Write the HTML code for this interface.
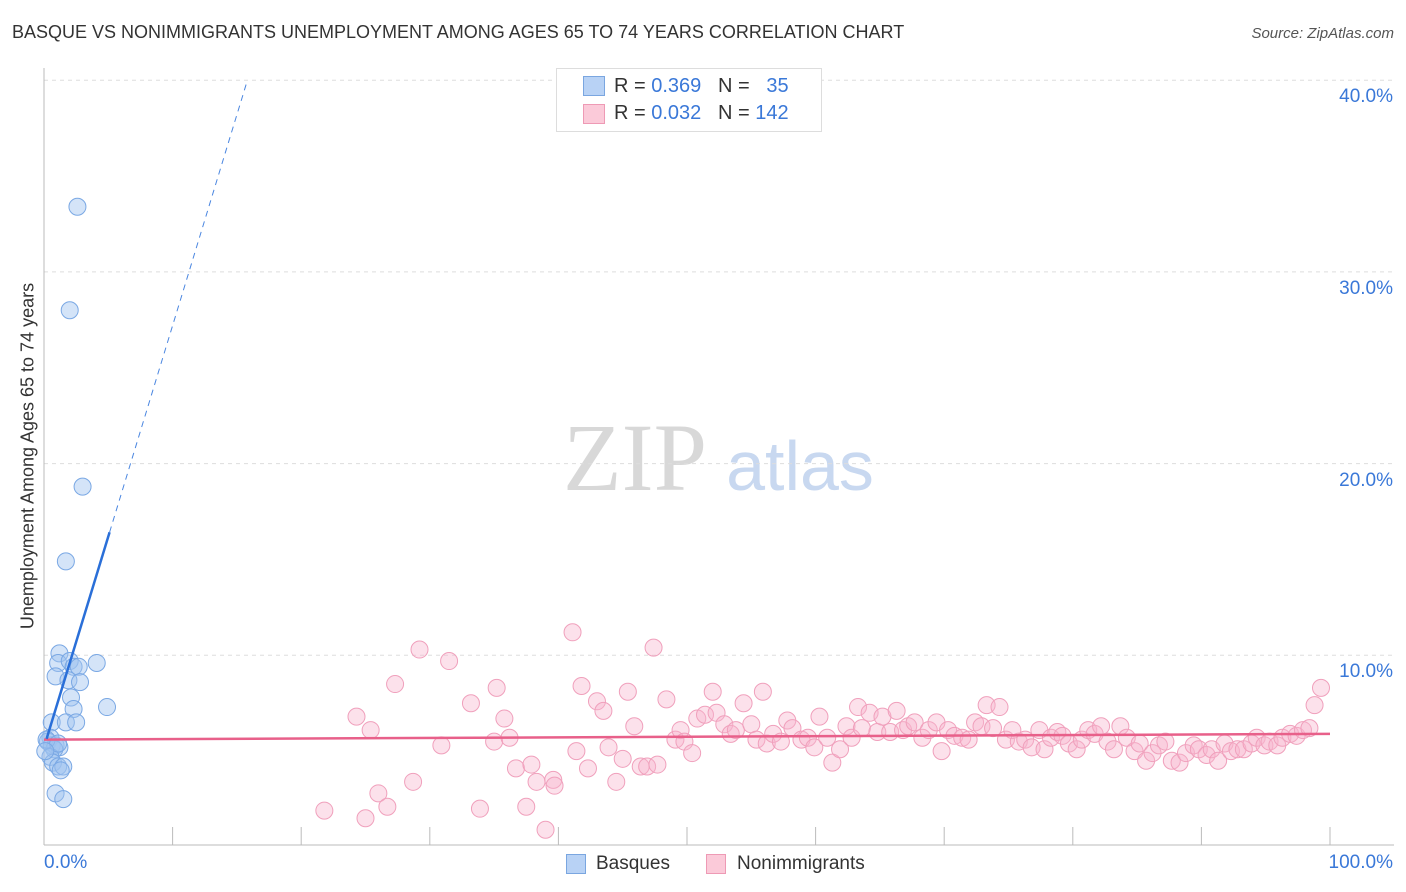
<!DOCTYPE html>
<html><head><meta charset="utf-8"><style>
body{margin:0;background:#fff;font-family:"Liberation Sans",sans-serif;}
#wrap{position:relative;width:1406px;height:892px;overflow:hidden;}
.t{position:absolute;white-space:nowrap;}
</style></head><body>
<div id="wrap">
<div class="t" style="left:12px;top:22px;font-size:18px;color:#333;">BASQUE VS NONIMMIGRANTS UNEMPLOYMENT AMONG AGES 65 TO 74 YEARS CORRELATION CHART</div>
<div class="t" style="right:12px;top:25px;font-size:15px;color:#555;font-style:italic;">Source: ZipAtlas.com</div>
<svg id="plot" width="1406" height="892" style="position:absolute;left:0;top:0">
<text x="635" y="490" font-family="Liberation Serif,serif" font-size="96" fill="#d8d8d8" text-anchor="middle">ZIP</text>
<text x="800" y="490" font-family="Liberation Sans,sans-serif" font-size="70" fill="#c8d8f0" text-anchor="middle">atlas</text>
</svg>
<div class="t" style="left:28px;top:456px;font-size:18px;color:#333;transform:translate(-50%,-50%) rotate(-90deg);transform-origin:center;">Unemployment Among Ages 65 to 74 years</div>
<div style="position:absolute;left:556px;top:68px;width:264px;height:62px;border:1px solid #ddd;background:#fff;font-size:20px;color:#333;">
<div style="position:absolute;left:26px;top:7px;width:20px;height:18px;background:#b8d2f5;border:1px solid #7aa6e0;"></div>
<div class="t" style="left:57px;top:6px;">R = <span style="color:#3a78d8">0.369</span>&nbsp;&nbsp;&nbsp;N = &nbsp;&nbsp;<span style="color:#3a78d8">35</span></div>
<div style="position:absolute;left:26px;top:35px;width:20px;height:18px;background:#fbcad9;border:1px solid #ee9ab5;"></div>
<div class="t" style="left:57px;top:33px;">R = <span style="color:#3a78d8">0.032</span>&nbsp;&nbsp;&nbsp;N = <span style="color:#3a78d8">142</span></div>
</div>
<div>
<div style="position:absolute;left:566px;top:854px;width:18px;height:18px;background:#b8d2f5;border:1px solid #7aa6e0;"></div>
<div class="t" style="left:596px;top:853px;font-size:19px;color:#333;">Basques</div>
<div style="position:absolute;left:706px;top:854px;width:18px;height:18px;background:#fbcad9;border:1px solid #ee9ab5;"></div>
<div class="t" style="left:737px;top:853px;font-size:19px;color:#333;">Nonimmigrants</div>
</div>
</div>
<script>
const yTicks=[10,20,30,40];
const yTickLabels=["10.0%","20.0%","30.0%","40.0%"];
const xTickLabels=["0.0%","100.0%"];
const basqueX=[2.6,2.0,3.0,1.7,1.2,1.1,2.0,2.3,2.7,4.1,0.9,1.9,2.8,2.1,2.3,4.9,0.6,1.7,2.5,0.5,0.3,0.6,0.9,1.2,0.8,0.5,0.7,1.1,1.5,1.3,0.9,1.5,0.2,1.1,0.1];
const basqueY=[33.4,28.0,18.8,14.9,10.1,9.6,9.7,9.4,9.4,9.6,8.9,8.7,8.6,7.8,7.2,7.3,6.5,6.5,6.5,5.7,5.5,5.3,5.3,5.2,5.1,4.7,4.4,4.2,4.2,4.0,2.8,2.5,5.6,5.4,5.0];
const nonX=[21.8,24.3,25.0,25.4,26.0,26.7,27.3,28.7,29.2,30.9,31.5,33.2,33.9,35.2,35.0,35.8,36.2,36.7,37.5,37.9,38.3,39.0,39.6,39.7,41.1,41.4,41.8,42.3,43.0,43.5,43.9,44.5,45.0,45.4,45.9,46.4,46.9,47.4,47.7,48.4,49.1,49.5,49.8,50.4,50.8,51.4,52.0,52.3,52.9,53.4,53.8,54.4,55.0,55.4,55.9,56.2,56.7,57.3,57.8,58.2,58.9,59.4,59.9,60.3,60.9,61.3,61.9,62.4,62.8,63.3,63.6,64.2,64.8,65.2,65.8,66.3,66.8,67.2,67.7,68.3,68.8,69.4,69.8,70.3,70.8,71.4,71.9,72.4,72.9,73.3,73.8,74.3,74.8,75.3,75.8,76.3,76.8,77.4,77.8,78.3,78.8,79.2,79.7,80.3,80.7,81.2,81.7,82.2,82.7,83.2,83.7,84.2,84.8,85.2,85.7,86.2,86.7,87.2,87.7,88.3,88.8,89.4,89.8,90.4,90.8,91.3,91.8,92.3,92.8,93.3,93.9,94.3,94.9,95.3,95.9,96.3,96.9,97.4,97.9,98.4,98.8,99.3];
const nonY=[1.9,6.8,1.5,6.1,2.8,2.1,8.5,3.4,10.3,5.3,9.7,7.5,2.0,8.3,5.5,6.7,5.7,4.1,2.1,4.3,3.4,0.9,3.5,3.2,11.2,5.0,8.4,4.1,7.6,7.1,5.2,3.4,4.6,8.1,6.3,4.2,4.2,10.4,4.3,7.7,5.6,6.1,5.5,4.9,6.7,6.9,8.1,7.0,6.4,5.9,6.1,7.5,6.4,5.6,8.1,5.4,5.9,5.5,6.6,6.2,5.6,5.7,5.2,6.8,5.7,4.4,5.1,6.3,5.7,7.3,6.2,7.0,6.0,6.8,6.0,7.1,6.1,6.3,6.5,5.7,6.1,6.5,5.0,6.1,5.8,5.7,5.6,6.5,6.3,7.4,6.2,7.3,5.6,6.1,5.5,5.6,5.2,6.1,5.1,5.7,6.0,5.8,5.4,5.1,5.6,6.1,5.9,6.3,5.5,5.1,6.3,5.7,5.0,5.4,4.5,4.9,5.3,5.5,4.5,4.4,4.9,5.3,5.1,4.8,5.1,4.5,5.4,5.0,5.1,5.1,5.4,5.7,5.3,5.5,5.3,5.7,5.9,5.8,6.1,6.2,7.4,8.3];
const basqueTrend=[5.2,2.2]; // intercept, slope
const nonTrend=[5.6,0.003];

const X0=44,X1=1330,Y0=847,PPY=19.17;
const sx=v=>X0+(X1-X0)*v/100, sy=v=>Y0-v*PPY;
const svg=document.getElementById('plot'),NS='http://www.w3.org/2000/svg';
function mk(tag,attrs){const e=document.createElementNS(NS,tag);for(const k in attrs)e.setAttribute(k,attrs[k]);svg.appendChild(e);return e;}
function txt(x,y,s,anchor){const d=document.createElement('div');d.className='t';d.textContent=s;d.style.left=x+'px';d.style.top=y+'px';d.style.fontSize='19px';d.style.color='#3a78d8';if(anchor)d.style.transform='translateX(-100%)';document.getElementById('wrap').appendChild(d);return d;}
yTicks.forEach((v,i)=>{
 const g=mk('line',{x1:44,x2:1394,y1:sy(v),y2:sy(v),stroke:'#ddd','stroke-dasharray':'4,4'});
 
 
 const l=txt(1393,sy(v)+6,yTickLabels[i],true);
 
 
});
const ax=mk('line',{x1:44,x2:1394,y1:845,y2:845,stroke:'#bbb'});


const ay=mk('line',{x1:44,x2:44,y1:68,y2:845,stroke:'#bbb'});


for(let i=0;i<=10;i++){const t=mk('line',{x1:sx(i*10),x2:sx(i*10),y1:827,y2:845,stroke:'#bbb'});
 
 }
const xl0=txt(44,852,xTickLabels[0]);
const xl1=txt(1393,852,xTickLabels[1],true);
nonX.forEach((x,i)=>{const c=mk('circle',{cx:sx(x),cy:sy(nonY[i]),r:8.5,fill:'rgba(248,180,205,0.4)',stroke:'#f0a0bc','stroke-width':1});
 
 });
basqueX.forEach((x,i)=>{const c=mk('circle',{cx:sx(x),cy:sy(basqueY[i]),r:8.5,fill:'rgba(160,195,240,0.45)',stroke:'#7aa8e4','stroke-width':1});
 
 });
const nt=mk('line',{x1:sx(0),x2:sx(100),y1:sy(nonTrend[0]),y2:sy(nonTrend[0]+nonTrend[1]*100),stroke:'#e8608a','stroke-width':2.5});


const bx=5.1,bx2=(40-basqueTrend[0])/basqueTrend[1];
const bt=mk('line',{x1:sx(0.2),x2:sx(bx),y1:sy(basqueTrend[0]+basqueTrend[1]*0.2),y2:sy(basqueTrend[0]+basqueTrend[1]*bx),stroke:'#2a6fd8','stroke-width':2.5});


const bd=mk('line',{x1:sx(bx),x2:sx(bx2),y1:sy(basqueTrend[0]+basqueTrend[1]*bx),y2:sy(40),stroke:'#4a86e0','stroke-width':1,'stroke-dasharray':'6,5'});


</script>
</body></html>
